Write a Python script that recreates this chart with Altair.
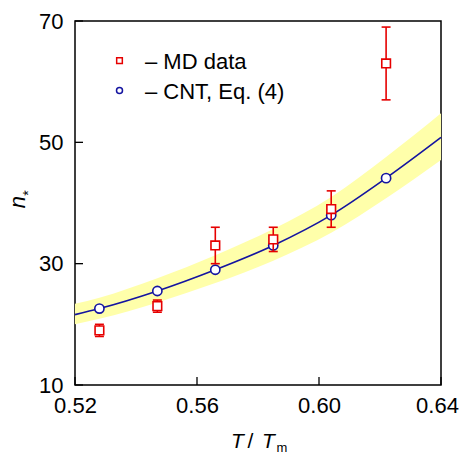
import altair as alt
import pandas as pd

# MD simulation results: critical nucleus size with error bars
T_md = [0.528, 0.547, 0.566, 0.585, 0.604, 0.622]
n_md = [19, 23, 33, 34, 39, 63]
n_md_err = [1, 1, 3, 2, 3, 6]

# CNT predictions, Eq. (4)
T_cnt = [0.528, 0.547, 0.566, 0.585, 0.604, 0.622]
n_cnt = [22.6, 25.5, 29.0, 33.0, 38.0, 44.1]

# CNT curve and its uncertainty band
curve_T = [0.52, 0.528, 0.547, 0.566, 0.585, 0.604, 0.622, 0.64]
curve_n = [21.6, 22.6, 25.5, 29.0, 33.0, 38.0, 44.1, 50.8]
band_lo = [20.0, 20.9, 23.6, 26.8, 30.5, 35.1, 40.8, 47.1]
band_hi = [23.4, 24.4, 27.6, 31.4, 35.7, 41.0, 47.6, 54.8]

x_ticks = [0.52, 0.56, 0.60, 0.64]
y_ticks = [10, 30, 50, 70]

W, H = 366, 364
FONT = "Liberation Sans"
RED = "#e60000"
BLUE = "#1414a0"
YELLOW = "#ffffaa"

md = pd.DataFrame({"T": T_md, "n": n_md, "err": n_md_err})
md["lo"] = md["n"] - md["err"]
md["hi"] = md["n"] + md["err"]
cnt = pd.DataFrame({"T": T_cnt, "n": n_cnt})
curve = pd.DataFrame({"T": curve_T, "n": curve_n, "lo": band_lo, "hi": band_hi})

xs = alt.Scale(domain=[0.52, 0.64], nice=False, zero=False)
ys = alt.Scale(domain=[10, 70], nice=False, zero=False)

x_axis = alt.Axis(values=x_ticks, format=".2f", title=None, grid=False, domain=False,
                  ticks=False, tickSize=0, labelFont=FONT, labelFontSize=22,
                  labelColor="black", labelPadding=10, labelFlush=False,
                  labelOffset=alt.condition("datum.value > 0.635", alt.value(-4), alt.value(0)))
y_axis = alt.Axis(values=y_ticks, format="d", title=None, grid=False, domain=False,
                  ticks=False, tickSize=0, labelFont=FONT, labelFontSize=22,
                  labelColor="black", labelPadding=12)

band = alt.Chart(curve).mark_area(color=YELLOW, opacity=1, interpolate="monotone").encode(
    x=alt.X("T:Q", scale=xs, axis=x_axis),
    y=alt.Y("lo:Q", scale=ys, axis=y_axis),
    y2="hi:Q",
)

line = alt.Chart(curve).mark_line(color=BLUE, strokeWidth=1.6, interpolate="monotone").encode(
    x=alt.X("T:Q", scale=xs), y=alt.Y("n:Q", scale=ys)
)

circles = alt.Chart(cnt).mark_point(shape="circle", size=85, filled=True, fill="white",
                                    stroke=BLUE, strokeWidth=1.6, opacity=1).encode(
    x=alt.X("T:Q", scale=xs), y=alt.Y("n:Q", scale=ys)
)

err_rule = alt.Chart(md).mark_rule(color=RED, strokeWidth=1.6).encode(
    x=alt.X("T:Q", scale=xs), y=alt.Y("lo:Q", scale=ys), y2="hi:Q"
)
cap_lo = alt.Chart(md).mark_tick(color=RED, orient="horizontal", size=9, thickness=1.6, opacity=1).encode(
    x=alt.X("T:Q", scale=xs), y=alt.Y("lo:Q", scale=ys)
)
cap_hi = alt.Chart(md).mark_tick(color=RED, orient="horizontal", size=9, thickness=1.6, opacity=1).encode(
    x=alt.X("T:Q", scale=xs), y=alt.Y("hi:Q", scale=ys)
)

squares = alt.Chart(md).mark_point(shape="square", size=75, filled=True, fill="white",
                                   stroke=RED, strokeWidth=1.6, opacity=1).encode(
    x=alt.X("T:Q", scale=xs), y=alt.Y("n:Q", scale=ys)
)

# inward tick marks on the bottom and left edges
xtick_marks = alt.Chart(pd.DataFrame({"t": x_ticks})).mark_rule(color="black", strokeWidth=1.3).encode(
    x=alt.X("t:Q", scale=xs), y=alt.value(H), y2=alt.value(H - 8)
)
ytick_marks = alt.Chart(pd.DataFrame({"t": y_ticks})).mark_rule(color="black", strokeWidth=1.3).encode(
    y=alt.Y("t:Q", scale=ys), x=alt.value(0), x2=alt.value(8)
)


def label(text, x, y, size=22, style="normal", align="left", baseline="alphabetic", angle=0):
    return alt.Chart(alt.Data(values=[{}])).mark_text(
        text=text, font=FONT, fontSize=size, fontStyle=style, align=align,
        baseline=baseline, angle=angle, color="black"
    ).encode(x=alt.value(x), y=alt.value(y))


# legend
leg_sq = alt.Chart(alt.Data(values=[{}])).mark_point(
    shape="square", size=32, filled=True, fill="white", stroke=RED, strokeWidth=1.5, opacity=1
).encode(x=alt.value(44.5), y=alt.value(39.7))
leg_ci = alt.Chart(alt.Data(values=[{}])).mark_point(
    shape="circle", size=36, filled=True, fill="white", stroke=BLUE, strokeWidth=1.5, opacity=1
).encode(x=alt.value(44.5), y=alt.value(69.5))
leg_t1 = label("\u2013 MD data", 70, 47.5)
leg_t2 = label("\u2013 CNT, Eq. (4)", 70, 78)

# axis titles
xt1 = label("T", 162.5, 427, size=21, style="italic", align="center")
xt2 = label("/", 175.5, 427, size=21, align="center")
xt3 = label("T", 193.5, 427, size=21, style="italic", align="center")
xt4 = label("m", 207, 431, size=13, align="center")
yt1 = label("n", -50, 181, size=22, style="italic", align="center", angle=270)
yt2 = label("*", -46, 172, size=14, align="center", baseline="middle", angle=270)

chart = alt.layer(
    band, line, circles, err_rule, cap_lo, cap_hi, squares,
    xtick_marks, ytick_marks,
    leg_sq, leg_ci, leg_t1, leg_t2,
    xt1, xt2, xt3, xt4, yt1, yt2,
).properties(
    width=W, height=H,
    autosize=alt.AutoSizeParams(type="none"),
    padding={"left": 75, "top": 21, "right": 19, "bottom": 69},
    background="white",
).configure_view(stroke="black", strokeWidth=1.5)

chart.save("out.html", embed_options={"renderer": "svg", "actions": False})
